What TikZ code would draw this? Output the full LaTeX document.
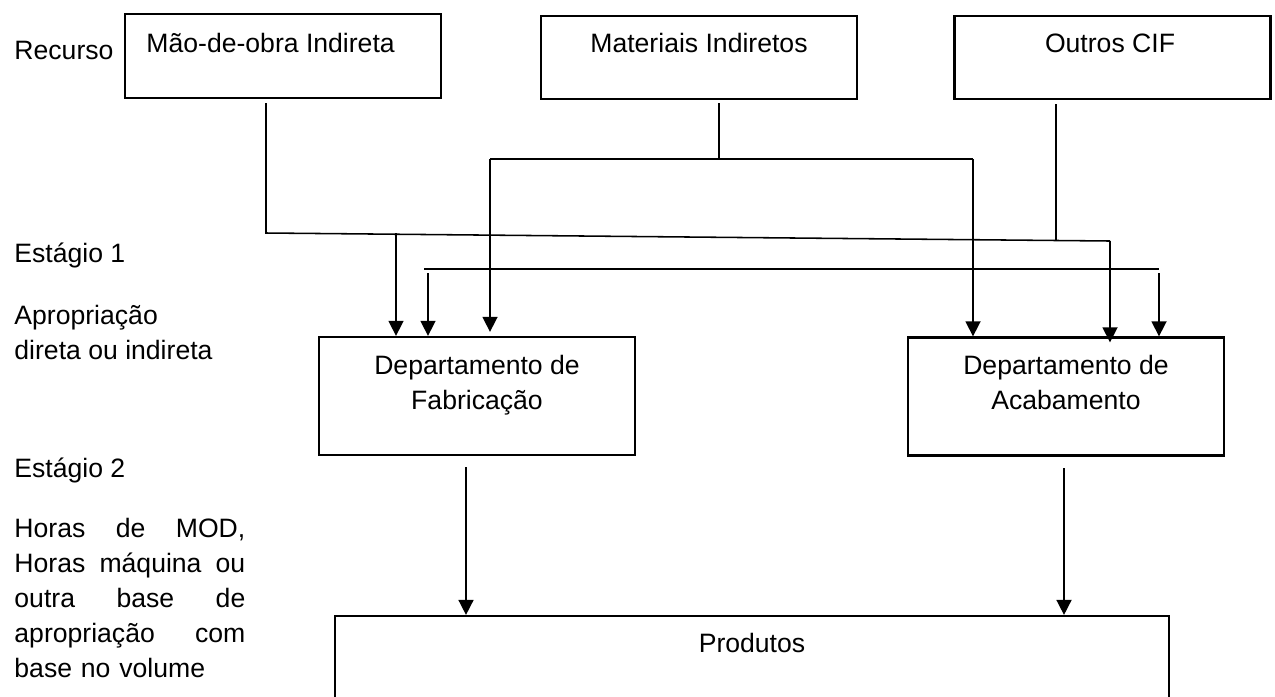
\documentclass[tikz,border=0pt]{standalone}
\usepackage{fontspec}
\setmainfont{Liberation Sans}
\usetikzlibrary{arrows.meta, positioning}
\newcommand{\linhaj}[1]{\makebox[104.2pt][s]{\spaceskip=0pt\relax #1}}

\begin{document}
\begin{tikzpicture}[x=0.4513pt, y=-0.4513pt]
  \tikzset{
    texto/.style={inner sep=0pt, font=\fontsize{12}{15.8}\selectfont},
    rotulo/.style={texto, anchor=base west, align=left},
    caixa/.style={draw, line width=1pt, minimum width=142.6pt, inner sep=0pt},
    linha/.style={line width=0.7pt},
    seta/.style={linha, -{Triangle[length=6.8pt, width=6.8pt]}}}
  \useasboundingbox (0,0) rectangle (1275,696);
  \clip (0,0) rectangle (1275,696);
  % recursos
  \node[caixa, minimum height=37.9pt] (mao) at (283,56) {};
  \node[caixa, minimum height=37.5pt] (mat) at (699,57.5) {};
  \node[caixa, minimum height=37.5pt] (cif) at (1112.5,57.5) {};
  \node[texto, anchor=base west] (maoT) at (146,52) {Mão-de-obra Indireta};
  \node[texto, anchor=base] (matT) at (699,52) {Materiais Indiretos};
  \node[texto, anchor=base] (cifT) at (1110,52) {Outros CIF};
  % departamentos e produtos
  \node[caixa, minimum height=53.3pt] (fab) at (477,396) {};
  \node[caixa, minimum height=53.3pt] (acab) at (1066,396.5) {};
  \node[texto, anchor=base, align=center] (fabT) at (477,409) {Departamento de\\Fabricação};
  \node[texto, anchor=base, align=center] (acabT) at (1066,409) {Departamento de\\Acabamento};
  \node[caixa, minimum width=376.4pt, minimum height=108.3pt] (prod) at (752,736) {};
  \node[texto, anchor=base] (prodT) at (752,652) {Produtos};
  % coluna da esquerda
  \node[rotulo] (recurso) at (14,59) {Recurso};
  \node[rotulo] (est1) at (14,262) {Estágio 1};
  \node[rotulo] (aprop) at (14,359) {Apropriação\\direta ou indireta};
  \node[rotulo] (est2) at (14,477) {Estágio 2};
  \node[rotulo, text width=104.2pt] (bases) at (14,537)
    {\linhaj{Horas de MOD,}\\
     \linhaj{Horas máquina ou}\\
     \linhaj{outra base de}\\
     \linhaj{apropriação com}\\
     base no volume};
  % pontos das ligacoes
  \coordinate (maoS) at (266,103);
  \coordinate (maoJ) at (266,233);
  \coordinate (maoR) at (1110,241);
  \coordinate (maoF) at (396,233);
  \coordinate (matS) at (719,103);
  \coordinate (matJ) at (719,159);
  \coordinate (matE) at (490,159);
  \coordinate (matD) at (973,159);
  \coordinate (cifS) at (1056,104);
  \coordinate (cifJ) at (1056,240);
  \coordinate (cifL) at (424,269);
  \coordinate (cifR) at (1159,269);
  \coordinate (cifE) at (428,273);
  \coordinate (cifD) at (1159,273);
  \coordinate (fabS) at (466,467);
  \coordinate (acabS) at (1064,468);
  % ligacoes
  \draw[linha] (maoS) -- (maoJ) -- (maoR);
  \draw[linha] (matS) -- (matJ);
  \draw[linha] (matE) -- (matD);
  \draw[linha] (cifS) -- (cifJ);
  \draw[line width=1pt] (cifL) -- (cifR);
  \foreach \c/\d in {maoF/fab, cifE/fab, matD/acab, cifD/acab, fabS/prod, acabS/prod}
    \draw[seta] (\c) -- (\c |- \d.north);
  \draw[seta] (matE) -- ([yshift=1.8pt]matE |- fab.north);
  \draw[seta] (maoR) -- ([yshift=-2.7pt]maoR |- acab.north);
\end{tikzpicture}
\end{document}
